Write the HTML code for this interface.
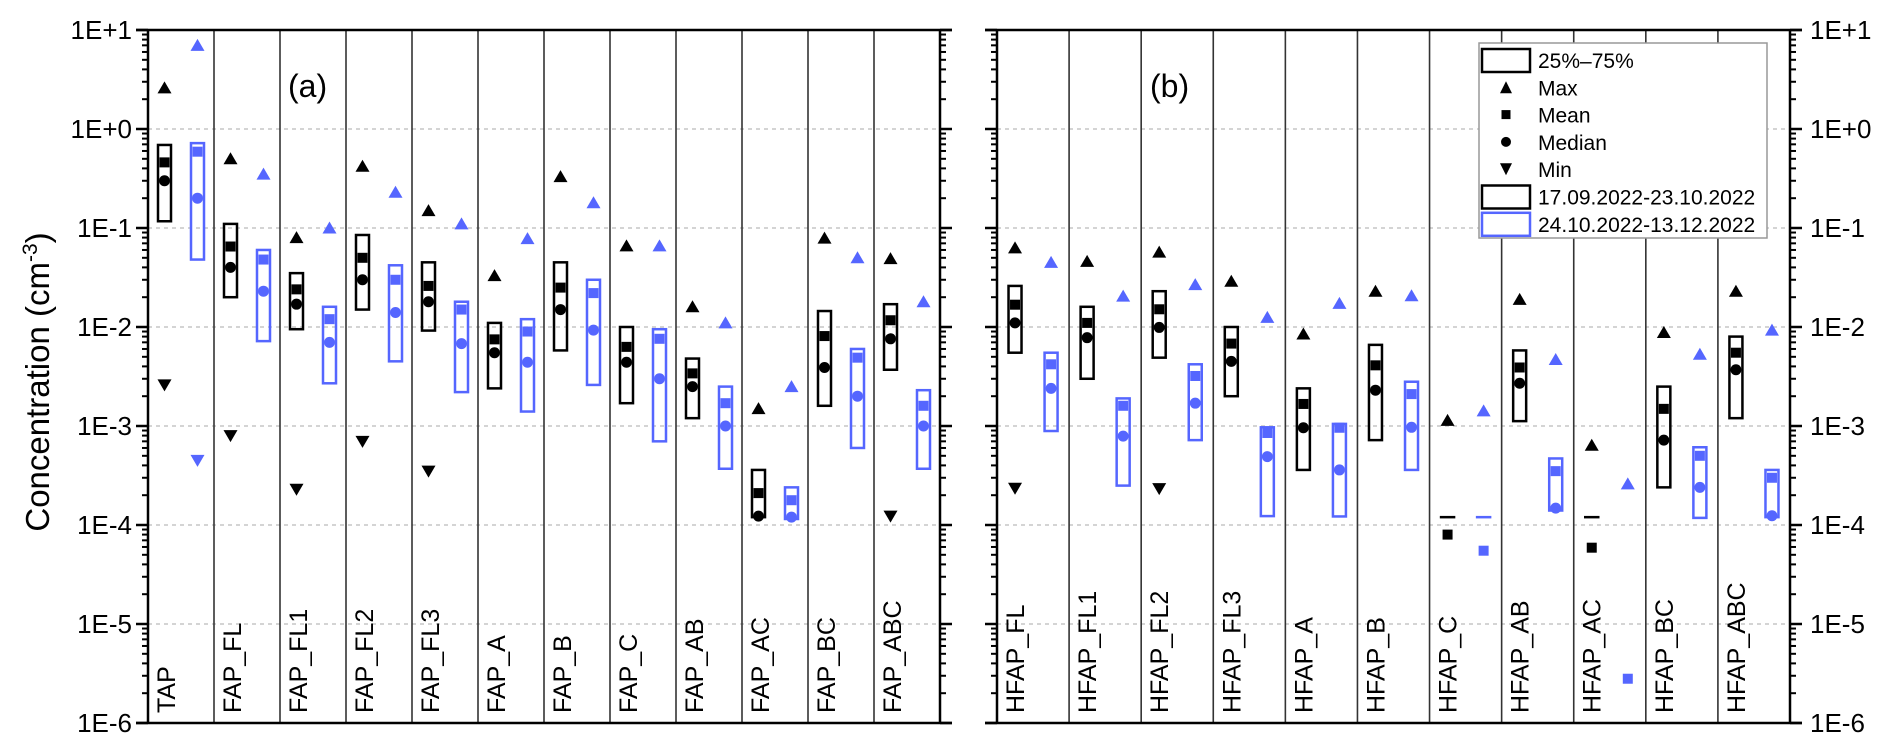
<!DOCTYPE html>
<html><head><meta charset="utf-8"><style>
html,body{margin:0;padding:0;background:#fff;}
svg{display:block;font-family:"Liberation Sans",Arial,sans-serif;}
</style></head><body>
<svg id="chart" width="1892" height="751" viewBox="0 0 1892 751"></svg>
<script>
// ---- data ----
const catsA = ["TAP","FAP_FL","FAP_FL1","FAP_FL2","FAP_FL3","FAP_A","FAP_B","FAP_C","FAP_AB","FAP_AC","FAP_BC","FAP_ABC"];
const catsB = ["HFAP_FL","HFAP_FL1","HFAP_FL2","HFAP_FL3","HFAP_A","HFAP_B","HFAP_C","HFAP_AB","HFAP_AC","HFAP_BC","HFAP_ABC"];
// period 1 (black): [max, q75, mean, median, q25, min]
const p1A_max  = [2.6,0.5,0.08,0.42,0.15,0.033,0.33,0.066,0.016,0.0015,0.079,0.049];
const p1A_q75  = [0.69,0.11,0.035,0.085,0.045,0.011,0.045,0.010,0.0048,0.00036,0.0145,0.017];
const p1A_mean = [0.46,0.065,0.024,0.05,0.026,0.0075,0.025,0.0063,0.0034,0.00021,0.0081,0.0117];
const p1A_med  = [0.30,0.04,0.017,0.03,0.018,0.0055,0.015,0.0044,0.0025,0.000123,0.0039,0.0076];
const p1A_q25  = [0.117,0.02,0.0095,0.015,0.0092,0.0024,0.0058,0.0017,0.0012,0.00012,0.0016,0.0037];
const p1A_min  = [0.0026,0.0008,0.00023,0.0007,0.00035,null,null,null,null,null,null,0.000123];
const p2A_max  = [7,0.35,0.1,0.23,0.11,0.078,0.18,0.066,0.011,0.0025,0.05,0.018];
const p2A_q75  = [0.72,0.06,0.016,0.042,0.018,0.012,0.03,0.0095,0.0025,0.00024,0.006,0.0023];
const p2A_mean = [0.59,0.048,0.012,0.03,0.015,0.009,0.022,0.0076,0.0017,0.000178,0.0049,0.0016];
const p2A_med  = [0.2,0.023,0.007,0.014,0.0068,0.0044,0.0093,0.0030,0.001,0.00012,0.002,0.001];
const p2A_q25  = [0.048,0.0072,0.0027,0.0045,0.0022,0.0014,0.0026,0.0007,0.00037,0.000115,0.0006,0.00037];
const p2A_min  = [0.00045,null,null,null,null,null,null,null,null,null,null,null];
const p1B_max  = [0.063,0.046,0.057,0.029,0.0085,0.023,0.00114,0.019,0.00064,0.0088,0.023];
const p1B_q75  = [0.026,0.016,0.023,0.010,0.0024,0.0066,0.00012,0.0058,0.00012,0.0025,0.008];
const p1B_mean = [0.0168,0.011,0.0151,0.0068,0.00167,0.0041,0.00008,0.0039,0.000059,0.00149,0.0055];
const p1B_med  = [0.011,0.0078,0.0099,0.0045,0.00096,0.0023,null,0.0027,null,0.00072,0.0037];
const p1B_q25  = [0.0055,0.003,0.0049,0.002,0.00036,0.00072,0.00012,0.00112,0.00012,0.00024,0.0012];
const p1B_min  = [0.000235,null,0.000233,null,null,null,null,null,null,null,null];
const p2B_max  = [0.045,0.0205,0.0268,0.0125,0.0173,0.0207,0.00142,0.0047,0.00026,0.0053,0.0093];
const p2B_q75  = [0.0055,0.0019,0.0042,0.00097,0.00105,0.0028,0.00012,0.00047,null,0.00061,0.00036];
const p2B_mean = [0.0042,0.0016,0.0032,0.00085,0.00096,0.0021,0.000055,0.00035,0.0000028,0.0005,0.0003];
const p2B_med  = [0.0024,0.00079,0.0017,0.00049,0.00036,0.00097,null,0.000148,null,0.00024,0.000124];
const p2B_q25  = [0.00089,0.00025,0.00072,0.000123,0.000122,0.00036,0.00012,0.00014,null,0.000118,0.00012];
const p2B_min  = [null,null,null,null,null,null,null,null,null,null,null];
const yTicks = [1,0,-1,-2,-3,-4,-5,-6];
const yTickLabels = ["1E+1","1E+0","1E-1","1E-2","1E-3","1E-4","1E-5","1E-6"];

const svg = document.getElementById('chart');
const NS = 'http://www.w3.org/2000/svg';
function mk(tag, attrs, parent){const e=document.createElementNS(NS,tag);for(const k in attrs)e.setAttribute(k,attrs[k]);(parent||svg).appendChild(e);return e;}
const Y0=30, DEC=99;
function y(v){return Y0+(1-Math.log10(v))*DEC;}
const BLUE='#5566ff';
const panels=[{x0:148,x1:940,cats:catsA,label:'(a)',lx:288,
  s:[[p1A_max,p1A_q75,p1A_mean,p1A_med,p1A_q25,p1A_min],[p2A_max,p2A_q75,p2A_mean,p2A_med,p2A_q25,p2A_min]]},
 {x0:997,x1:1790,cats:catsB,label:'(b)',lx:1150,
  s:[[p1B_max,p1B_q75,p1B_mean,p1B_med,p1B_q25,p1B_min],[p2B_max,p2B_q75,p2B_mean,p2B_med,p2B_q25,p2B_min]]}];
const yTop=y(10), yBot=y(1e-6);
panels.forEach((P,pi)=>{
  const g=mk('g',{});
  
  
  yTicks.forEach(t=>{ if(t===1||t===-6)return;
    const l=mk('line',{x1:P.x0,x2:P.x1,y1:y(Math.pow(10,t)),y2:y(Math.pow(10,t)),stroke:'#bbb','stroke-width':1.2,'stroke-dasharray':'4,4'},g);
    
    
  });
  const w=(P.x1-P.x0)/P.cats.length;
  P.cats.forEach((c,i)=>{
    const cx=P.x0+i*w;
    if(i>0){const l=mk('line',{x1:cx,x2:cx,y1:yTop,y2:yBot,stroke:'#333','stroke-width':1.6},g);
      
      }
    const tx=cx+27, ty=yBot-10;
    const t=mk('text',{x:tx,y:ty,transform:`rotate(-90 ${tx} ${ty})`,'font-size':25,fill:'#000'},g);
    t.textContent=c;
    
    
    P.s.forEach((ser,si)=>{
      const col=si===0?'#000':BLUE;
      const mx=cx+w*(si===0?0.25:0.75);
      const [mxv,q75,mean,med,q25,mn]=ser.map(a=>a[i]);
      if(q75!=null&&q25!=null){
        const r=mk('rect',{x:mx-6.5,y:y(q75),width:13,height:Math.max(0.01,y(q25)-y(q75)),fill:'none',stroke:col,'stroke-width':2.5},g);
        
        
      }
      if(mxv!=null){const yy=y(mxv);const p=mk('polygon',{points:`${mx-7},${yy+5.5} ${mx+7},${yy+5.5} ${mx},${yy-6.5}`,fill:col},g);
        
        }
      if(mn!=null){const yy=y(mn);const p=mk('polygon',{points:`${mx-7},${yy-5.5} ${mx+7},${yy-5.5} ${mx},${yy+6.5}`,fill:col},g);
        
        }
      if(mean!=null){const r=mk('rect',{x:mx-5,y:y(mean)-5,width:10,height:10,fill:col},g);
        
        }
      if(med!=null){const ci=mk('circle',{cx:mx,cy:y(med),r:5.5,fill:col},g);
        
        }
    });
  });
  const fr=mk('path',{d:`M${P.x0-12},${yTop}H${P.x1+12}M${P.x0-12},${yBot}H${P.x1+12}M${P.x0},${yTop}V${yBot}M${P.x1},${yTop}V${yBot}`,stroke:'#000','stroke-width':2.5,fill:'none'},g);
  
  
  [P.x0,P.x1].forEach((ax,k)=>{
    const dir = (k===0)?-1:1;
    for(let d=1; d>=-6; d--){
      const tl=mk('line',{x1:ax,x2:ax+dir*12,y1:y(Math.pow(10,d)),y2:y(Math.pow(10,d)),stroke:'#000','stroke-width':2.5},g);
      
      
      if(d>-6) for(let m=2;m<=9;m++){
        const yy=y(m*Math.pow(10,d-1));
        const ml=mk('line',{x1:ax,x2:ax+dir*6,y1:yy,y2:yy,stroke:'#000','stroke-width':2},g);
        
        
      }
    }
  });
  const pl=mk('text',{x:P.lx,y:97,'font-size':32,fill:'#000'},g);
  pl.textContent=P.label;
  
  
});
yTicks.forEach((t,i)=>{
  const a=mk('text',{x:132,y:y(Math.pow(10,t))+9,'font-size':26,'text-anchor':'end',fill:'#000'});
  a.textContent=yTickLabels[i];
  
  
  const b=mk('text',{x:1810,y:y(Math.pow(10,t))+9,'font-size':26,'text-anchor':'start',fill:'#000'});
  b.textContent=yTickLabels[i];
  
  
});
const yt=mk('text',{x:49,y:382,'font-size':33,'text-anchor':'middle',transform:'rotate(-90 49 382)',fill:'#000'});
yt.innerHTML='Concentration (cm<tspan dy="-12" font-size="21">-3</tspan><tspan dy="12">)</tspan>';


const lg=mk('g',{});


mk('rect',{x:1479,y:43,width:288,height:195,fill:'#fff',stroke:'#999','stroke-width':1.5},lg);
const items=[['box','#000','25%–75%'],['max','#000','Max'],['mean','#000','Mean'],['median','#000','Median'],['min','#000','Min'],['box','#000','17.09.2022-23.10.2022'],['box',BLUE,'24.10.2022-13.12.2022']];
items.forEach((it,i)=>{
  const cy=60+i*27.3, sx=1506;
  const eg=mk('g',{},lg);
  
  
  if(it[0]==='box') mk('rect',{x:1482,y:cy-11,width:48,height:23,fill:'none',stroke:it[1],'stroke-width':2.5},eg);
  else if(it[0]==='max') mk('polygon',{points:`${sx-6},${cy+6} ${sx+6},${cy+6} ${sx},${cy-6}`,fill:'#000'},eg);
  else if(it[0]==='min') mk('polygon',{points:`${sx-6},${cy-6} ${sx+6},${cy-6} ${sx},${cy+6}`,fill:'#000'},eg);
  else if(it[0]==='mean') mk('rect',{x:sx-4.5,y:cy-4.5,width:9,height:9,fill:'#000'},eg);
  else mk('circle',{cx:sx,cy:cy,r:5,fill:'#000'},eg);
  const t=mk('text',{x:1538,y:cy+8,'font-size':21,fill:'#000'},eg);
  t.textContent=it[2];
});
</script>
</body></html>
